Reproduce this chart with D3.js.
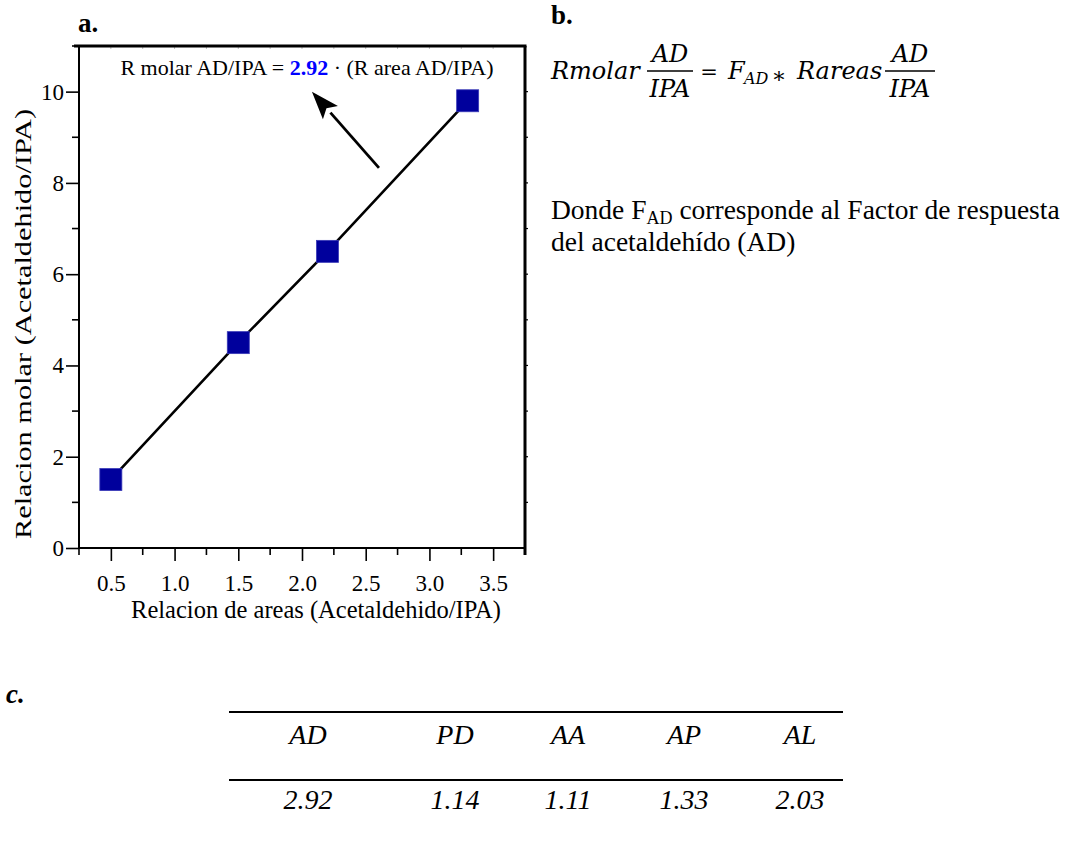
<!DOCTYPE html>
<html>
<head>
<meta charset="utf-8">
<script src="https://cdn.jsdelivr.net/npm/d3@7/dist/d3.min.js"></script>
<style>
  html, body { margin: 0; padding: 0; background: #fff; }
  svg { display: block; }
  text { font-family: "Liberation Serif", "Times New Roman", serif; fill: #000; }
</style>
</head>
<body>
<svg id="fig" width="1073" height="841"></svg>
<script>
// Calibration points: area ratio vs molar ratio (acetaldehyde / IPA)
const areaRatio  = [0.5, 1.5, 2.2, 3.3];
const molarRatio = [1.5, 4.5, 6.5, 9.8];

// Axis ticks
const xMajorTicks = [0.5, 1.0, 1.5, 2.0, 2.5, 3.0, 3.5];
const xMinorTicks = [0.25, 0.75, 1.25, 1.75, 2.25, 2.75, 3.25, 3.75];
const yMajorTicks = [0, 2, 4, 6, 8, 10];
const yMinorTicks = [1, 3, 5, 7, 9, 11];

// Fitted response factor shown on the plot
const slopeText = "2.92";
// Arrow of the annotation, in data units: [tail, tip]
const arrowTail = [2.604, 8.33];
const arrowTip  = [2.078, 10.0];

// Response factors table
const compounds = ["AD", "PD", "AA", "AP", "AL"];
const factors   = ["2.92", "1.14", "1.11", "1.33", "2.03"];

const svg = d3.select("#fig");

// ---------- panel a: calibration plot ----------
const plot = { left: 79, top: 46, width: 446, height: 502 };
const x = d3.scaleLinear().domain([0.25, 3.75]).range([plot.left, plot.left + plot.width]);
const y = d3.scaleLinear().domain([0, 11]).range([plot.top + plot.height, plot.top]);

svg.append("text").attr("x", 78).attr("y", 32)
  .style("font-size", "27px").style("font-weight", "bold").text("a.");

// bottom axis
const gx = svg.append("g").attr("transform", `translate(0,${plot.top + plot.height})`);
gx.call(d3.axisBottom(x).tickValues(xMajorTicks).tickSize(13).tickSizeOuter(0).tickFormat(d3.format(".1f")))
  .call(g => g.select(".domain").remove());
gx.selectAll(".tick line").attr("stroke", "#000").attr("stroke-width", 1.6);
gx.selectAll(".tick text").attr("dy", null).attr("y", 43)
  .style("font-family", "Liberation Serif").style("font-size", "23px");
gx.selectAll(".minor").data(xMinorTicks).join("line").attr("class", "minor")
  .attr("x1", d => x(d)).attr("x2", d => x(d)).attr("y1", 0).attr("y2", 7)
  .attr("stroke", "#000").attr("stroke-width", 1.6);

// left axis
const gy = svg.append("g").attr("transform", `translate(${plot.left},0)`);
gy.call(d3.axisLeft(y).tickValues(yMajorTicks).tickSize(13).tickSizeOuter(0).tickFormat(d3.format("d")))
  .call(g => g.select(".domain").remove());
gy.selectAll(".tick line").attr("stroke", "#000").attr("stroke-width", 1.6);
gy.selectAll(".tick text").attr("x", -15)
  .style("font-family", "Liberation Serif").style("font-size", "23px");
gy.selectAll(".minor").data(yMinorTicks).join("line").attr("class", "minor")
  .attr("x1", -7).attr("x2", 0).attr("y1", d => y(d)).attr("y2", d => y(d))
  .attr("stroke", "#000").attr("stroke-width", 1.6);

// right axis: tiny outward ticks
svg.append("g").selectAll("line").data(d3.range(1, 11)).join("line")
  .attr("x1", x(3.75)).attr("x2", x(3.75) + 3)
  .attr("y1", d => y(d)).attr("y2", d => y(d))
  .attr("stroke", "#000").attr("stroke-width", 1.2);
// top axis: faint inward ticks
svg.append("g").selectAll("line").data(xMajorTicks.concat(xMinorTicks)).join("line")
  .attr("x1", d => x(d)).attr("x2", d => x(d))
  .attr("y1", y(11)).attr("y2", y(11) + 3)
  .attr("stroke", "#bbb").attr("stroke-width", 1);

// frame
svg.append("line").attr("x1", x(0.25)).attr("x2", x(0.25)).attr("y1", y(11)).attr("y2", y(0))
  .attr("stroke", "#000").attr("stroke-width", 2);
svg.append("line").attr("x1", x(0.25)).attr("x2", x(3.75) + 1).attr("y1", y(0)).attr("y2", y(0))
  .attr("stroke", "#000").attr("stroke-width", 2);
svg.append("line").attr("x1", x(0.25) - 5).attr("x2", x(3.75) + 1.5).attr("y1", y(11)).attr("y2", y(11))
  .attr("stroke", "#000").attr("stroke-width", 3);
svg.append("line").attr("x1", x(3.75)).attr("x2", x(3.75)).attr("y1", y(11)).attr("y2", y(0) + 7)
  .attr("stroke", "#000").attr("stroke-width", 3);

// axis titles
svg.append("text").attr("x", 316).attr("y", 618).attr("text-anchor", "middle")
  .style("font-size", "24.5px").text("Relacion de areas (Acetaldehido/IPA)");
svg.append("text").attr("transform", `translate(31,324) rotate(-90)`).attr("text-anchor", "middle")
  .attr("textLength", 430).attr("lengthAdjust", "spacingAndGlyphs")
  .style("font-size", "24px").text("Relacion molar (Acetaldehido/IPA)");

// calibration line through the points
const pts = areaRatio.map((v, i) => [v, molarRatio[i]]);
svg.append("path").datum(pts)
  .attr("d", d3.line().x(d => x(d[0])).y(d => y(d[1])))
  .attr("fill", "none").attr("stroke", "#000").attr("stroke-width", 2.6);

// markers
const sq = 22;
svg.append("g").selectAll("rect").data(pts).join("rect")
  .attr("x", d => x(d[0]) - sq / 2).attr("y", d => y(d[1]) - sq / 2)
  .attr("width", sq).attr("height", sq)
  .attr("fill", "#00009c").attr("stroke", "#3a3ab8").attr("stroke-width", 0.8);

// equation annotation
const ann = svg.append("text").attr("x", 307).attr("y", 75).attr("text-anchor", "middle")
  .style("font-size", "22px");
ann.append("tspan").text("R molar AD/IPA = ");
ann.append("tspan").attr("fill", "#0000ff").style("fill", "#0000ff").style("font-weight", "bold").text(slopeText);
ann.append("tspan").text(" \u00b7 (R area AD/IPA)");

// arrow pointing at the annotation
const ax0 = x(arrowTail[0]), ay0 = y(arrowTail[1]);
const ax1 = x(arrowTip[0]),  ay1 = y(arrowTip[1]);
const ang = Math.atan2(ay1 - ay0, ax1 - ax0);
const headLen = 28, headHalf = 10;
const bx = ax1 - headLen * Math.cos(ang), by = ay1 - headLen * Math.sin(ang);
svg.append("line").attr("x1", ax0).attr("y1", ay0).attr("x2", bx).attr("y2", by)
  .attr("stroke", "#000").attr("stroke-width", 2.8);
svg.append("polygon")
  .attr("points", [
    [ax1, ay1],
    [bx + headHalf * Math.sin(ang), by - headHalf * Math.cos(ang)],
    [bx + 6 * Math.cos(ang), by + 6 * Math.sin(ang)],
    [bx - headHalf * Math.sin(ang), by + headHalf * Math.cos(ang)]
  ].map(p => p.join(",")).join(" "))
  .attr("fill", "#000");

// ---------- panel b: defining equation ----------
svg.append("text").attr("x", 551).attr("y", 24)
  .style("font-size", "27px").style("font-weight", "bold").text("b.");

const eq = svg.append("g");
const eqText = (xx, yy, s, size, anchor) => eq.append("text").attr("x", xx).attr("y", yy)
  .attr("text-anchor", anchor || "start")
  .style("font-family", "DejaVu Serif").style("font-style", "italic").style("font-size", size + "px").text(s);
eqText(551, 79, "Rmolar", 24);
eqText(670, 62, "AD", 24, "middle");
eq.append("line").attr("x1", 647).attr("x2", 693).attr("y1", 71).attr("y2", 71).attr("stroke", "#000").attr("stroke-width", 1.6);
eqText(670, 97, "IPA", 24, "middle");
eq.append("text").attr("x", 709).attr("y", 79).attr("text-anchor", "middle")
  .style("font-family", "DejaVu Serif").style("font-size", "21px").text("=");
eqText(728, 79, "F", 24);
eqText(744, 84, "AD", 16);
eq.append("text").attr("x", 779).attr("y", 83).attr("text-anchor", "middle")
  .style("font-family", "DejaVu Serif").style("font-size", "22px").text("\u2217");
eqText(797, 79, "Rareas", 24);
eqText(910, 62, "AD", 24, "middle");
eq.append("line").attr("x1", 885).attr("x2", 935).attr("y1", 71).attr("y2", 71).attr("stroke", "#000").attr("stroke-width", 1.6);
eqText(910, 97, "IPA", 24, "middle");

const d1 = svg.append("text").attr("x", 551).attr("y", 219).style("font-size", "27.5px");
d1.append("tspan").text("Donde F");
d1.append("tspan").attr("dy", 5).style("font-size", "18px").text("AD");
d1.append("tspan").attr("dy", -5).text(" corresponde al Factor de respuesta");
svg.append("text").attr("x", 551).attr("y", 251).style("font-size", "27.5px").text("del acetaldeh\u00eddo (AD)");

// ---------- panel c: response factors table ----------
svg.append("text").attr("x", 6).attr("y", 703)
  .style("font-size", "27px").style("font-weight", "bold").style("font-style", "italic").text("c.");

const colCenters = [308, 455, 568, 684, 800];
const tbl = svg.append("g");
tbl.append("line").attr("x1", 229).attr("x2", 843).attr("y1", 712).attr("y2", 712).attr("stroke", "#000").attr("stroke-width", 2);
tbl.append("line").attr("x1", 229).attr("x2", 843).attr("y1", 780).attr("y2", 780).attr("stroke", "#000").attr("stroke-width", 2);
tbl.selectAll(".hdr").data(compounds).join("text").attr("class", "hdr")
  .attr("x", (d, i) => colCenters[i]).attr("y", 744).attr("text-anchor", "middle")
  .style("font-size", "28px").style("font-style", "italic").text(d => d);
tbl.selectAll(".val").data(factors).join("text").attr("class", "val")
  .attr("x", (d, i) => colCenters[i]).attr("y", 809).attr("text-anchor", "middle")
  .style("font-size", "28px").style("font-style", "italic").text(d => d);
</script>
</body>
</html>
